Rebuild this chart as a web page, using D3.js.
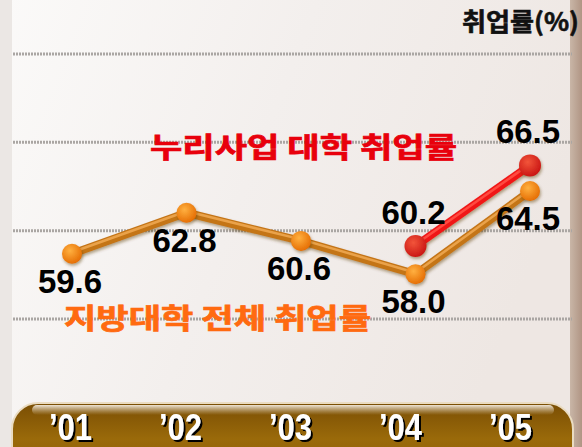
<!DOCTYPE html>
<html>
<head>
<meta charset="utf-8">
<script src="https://cdn.jsdelivr.net/npm/d3@7"></script>
<style>
  body { margin: 0; background: #f3efec; }
  svg { display: block; }
</style>
</head>
<body>
<div id="chart"></div>
<script>
const years = ['’01', '’02', '’03', '’04', '’05'];
const regionalRate = [59.6, 62.8, 60.6, 58.0, 64.5];   // 지방대학 전체
const nuriYears = ['’04', '’05'];
const nuriRate = [60.2, 66.5];                          // 누리사업 대학
const gridTicks = [54.5, 61.4, 68.3, 75.2];
const seriesNames = ['지방대학 전체 취업률', '누리사업 대학 취업률'];
const yTitle = '취업률(%)';

const width = 582, height = 447;

const svg = d3.select('#chart').append('svg')
    .attr('width', width)
    .attr('height', height);

const defs = svg.append('defs');

const bg = defs.append('linearGradient').attr('id', 'bg').attr('x1', 0).attr('x2', 1).attr('y1', 0).attr('y2', 0.3);
bg.append('stop').attr('offset', 0).attr('stop-color', '#fbfaf9');
bg.append('stop').attr('offset', 0.5).attr('stop-color', '#f3efed');
bg.append('stop').attr('offset', 1).attr('stop-color', '#eee7e3');

const frame = defs.append('linearGradient').attr('id', 'frame').attr('x1', 0).attr('x2', 1);
frame.append('stop').attr('offset', 0).attr('stop-color', '#c9b6a7');
frame.append('stop').attr('offset', 1).attr('stop-color', '#b09584');

const barGrad = defs.append('linearGradient').attr('id', 'bar').attr('x1', 0).attr('x2', 0).attr('y1', 0).attr('y2', 1);
barGrad.append('stop').attr('offset', 0).attr('stop-color', '#7a4e04');
barGrad.append('stop').attr('offset', 0.45).attr('stop-color', '#9a6a0a');
barGrad.append('stop').attr('offset', 1).attr('stop-color', '#8a5a02');

const shine = defs.append('linearGradient').attr('id', 'shine').attr('x1', 0).attr('x2', 0).attr('y1', 0).attr('y2', 1);
shine.append('stop').attr('offset', 0).attr('stop-color', '#f4ece0').attr('stop-opacity', 0.95);
shine.append('stop').attr('offset', 1).attr('stop-color', '#d8c6a6').attr('stop-opacity', 0);

const orangeDot = defs.append('radialGradient').attr('id', 'orangeDot').attr('cx', 0.4).attr('cy', 0.35).attr('r', 0.7);
orangeDot.append('stop').attr('offset', 0).attr('stop-color', '#ffb040');
orangeDot.append('stop').attr('offset', 1).attr('stop-color', '#e46a00');

const redDot = defs.append('radialGradient').attr('id', 'redDot').attr('cx', 0.4).attr('cy', 0.35).attr('r', 0.7);
redDot.append('stop').attr('offset', 0).attr('stop-color', '#f2553a');
redDot.append('stop').attr('offset', 1).attr('stop-color', '#c81212');

const shadow = defs.append('filter').attr('id', 'shadow').attr('x', -0.2).attr('y', -0.2).attr('width', 1.5).attr('height', 1.5);
shadow.append('feDropShadow').attr('dx', 2).attr('dy', 2).attr('stdDeviation', 0.4).attr('flood-color', '#000').attr('flood-opacity', 1);

const soft = defs.append('filter').attr('id', 'soft').attr('x', -0.2).attr('y', -0.5).attr('width', 1.5).attr('height', 2);
soft.append('feDropShadow').attr('dx', 1).attr('dy', 2).attr('stdDeviation', 1.5).attr('flood-color', '#5a3a10').attr('flood-opacity', 0.45);

// background
svg.append('rect').attr('width', width).attr('height', height).attr('fill', 'url(#bg)');
svg.append('rect').attr('x', 0).attr('width', 12).attr('height', height).attr('fill', '#ebe7e4');
svg.append('rect').attr('x', 570).attr('width', 12).attr('height', height).attr('fill', 'url(#frame)');

const x = d3.scalePoint().domain(years).range([72, 530]);
const xLabel = d3.scalePoint().domain(years).range([70, 510]);
const y = d3.scaleLinear().domain([54.5, 75.2]).range([319, 54]);

// grid lines
svg.append('g').selectAll('line')
    .data(gridTicks)
    .join('line')
    .attr('x1', 13).attr('x2', 572)
    .attr('y1', d => y(d)).attr('y2', d => y(d))
    .attr('stroke', '#aaa6a3')
    .attr('stroke-width', 3)
    .attr('stroke-dasharray', '2,1');

const korFont = '"Noto Sans CJK KR", sans-serif';

// y title
svg.append('text')
    .attr('x', 579).attr('y', 31)
    .attr('text-anchor', 'end')
    .attr('font-family', korFont)
    .attr('font-weight', 'bold')
    .attr('font-size', 25)
    .attr('textLength', 117)
    .attr('lengthAdjust', 'spacingAndGlyphs')
    .attr('fill', '#111')
    .attr('stroke', '#111')
    .attr('stroke-width', 0.6)
    .text(yTitle);

// x axis bar
svg.append('rect')
    .attr('x', 12).attr('y', 403)
    .attr('width', 561).attr('height', 80)
    .attr('rx', 26)
    .attr('fill', 'url(#bar)')
    .attr('stroke', '#eadcc2')
    .attr('stroke-width', 2);
svg.append('rect')
    .attr('x', 32).attr('y', 405)
    .attr('width', 522).attr('height', 10)
    .attr('rx', 5)
    .attr('fill', 'url(#shine)');

const xAxis = d3.axisBottom(xLabel).tickSize(0).tickPadding(0);
const axisG = svg.append('g')
    .attr('transform', 'translate(0,440)')
    .call(xAxis);
axisG.select('.domain').remove();
axisG.selectAll('text')
    .attr('y', 0).attr('dy', 0)
    .attr('fill', '#fff')
    .attr('font-family', '"Liberation Sans Narrow", "Arial Narrow", "Liberation Sans", sans-serif')
    .attr('font-weight', 'bold')
    .attr('font-size', 36)
    .attr('textLength', 43)
    .attr('lengthAdjust', 'spacingAndGlyphs')
    .attr('filter', 'url(#shadow)');

// lines
const line = d3.line().x(d => x(d[0])).y(d => y(d[1]));
const regional = years.map((yr, i) => [yr, regionalRate[i]]);
const nuri = nuriYears.map((yr, i) => [yr, nuriRate[i]]);

svg.append('path')
    .datum(regional)
    .attr('d', line)
    .attr('fill', 'none')
    .attr('stroke', '#c47418')
    .attr('stroke-width', 8)
    .attr('stroke-linejoin', 'round')
    .attr('filter', 'url(#soft)');
svg.append('path')
    .datum(regional)
    .attr('d', line)
    .attr('fill', 'none')
    .attr('stroke', '#eaa24a')
    .attr('stroke-width', 2.5)
    .attr('stroke-linejoin', 'round')
    .attr('transform', 'translate(0,-1.5)');

svg.append('path')
    .datum(nuri)
    .attr('d', line)
    .attr('fill', 'none')
    .attr('stroke', '#f01818')
    .attr('stroke-width', 8)
    .attr('filter', 'url(#soft)');
svg.append('path')
    .datum(nuri)
    .attr('d', line)
    .attr('fill', 'none')
    .attr('stroke', '#ff4a40')
    .attr('stroke-width', 2.5)
    .attr('transform', 'translate(0,-1.5)');

// points
svg.append('g').selectAll('circle')
    .data(regional)
    .join('circle')
    .attr('cx', d => x(d[0]))
    .attr('cy', d => y(d[1]))
    .attr('r', 10)
    .attr('fill', 'url(#orangeDot)')
    .attr('filter', 'url(#soft)');

svg.append('g').selectAll('circle')
    .data(nuri)
    .join('circle')
    .attr('cx', d => x(d[0]))
    .attr('cy', d => y(d[1]))
    .attr('r', 11)
    .attr('fill', 'url(#redDot)')
    .attr('filter', 'url(#soft)');

// value labels
const numFont = '"Liberation Sans", Arial, sans-serif';
svg.append('g').selectAll('text')
    .data(regional)
    .join('text')
    .attr('x', d => x(d[0]) - 2)
    .attr('y', d => y(d[1]) + 39)
    .attr('text-anchor', 'middle')
    .attr('font-family', numFont)
    .attr('font-weight', 'bold')
    .attr('font-size', 33)
    .attr('fill', '#000')
    .text(d => d[1].toFixed(1));

svg.append('g').selectAll('text')
    .data(nuri)
    .join('text')
    .attr('x', d => x(d[0]) - 2)
    .attr('y', d => y(d[1]) - 22)
    .attr('text-anchor', 'middle')
    .attr('font-family', numFont)
    .attr('font-weight', 'bold')
    .attr('font-size', 33)
    .attr('fill', '#000')
    .text(d => d[1].toFixed(1));

// series names
svg.append('text')
    .attr('x', 64).attr('y', 329)
    .attr('font-family', korFont)
    .attr('font-weight', 'bold')
    .attr('font-size', 28)
    .attr('textLength', 307)
    .attr('lengthAdjust', 'spacingAndGlyphs')
    .attr('fill', '#ff6a10')
    .attr('stroke', '#ff6a10')
    .attr('stroke-width', 0.7)
    .text(seriesNames[0]);

svg.append('text')
    .attr('x', 150).attr('y', 158)
    .attr('font-family', korFont)
    .attr('font-weight', 'bold')
    .attr('font-size', 28)
    .attr('textLength', 307)
    .attr('lengthAdjust', 'spacingAndGlyphs')
    .attr('fill', '#e8000c')
    .attr('stroke', '#e8000c')
    .attr('stroke-width', 0.7)
    .text(seriesNames[1]);
</script>
</body>
</html>
